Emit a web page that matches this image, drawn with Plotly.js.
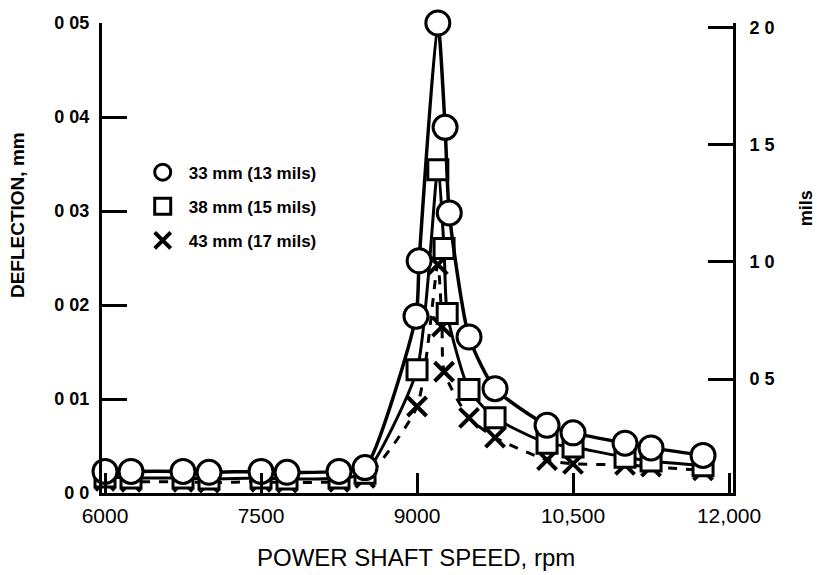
<!DOCTYPE html>
<html>
<head>
<meta charset="utf-8">
<script src="https://cdn.plot.ly/plotly-3.0.1.min.js"></script>
<style>html,body{margin:0;padding:0;background:#fff;}#chart{width:817px;height:575px;}</style>
</head>
<body>
<div id="chart"></div>
<script>
// Speeds (rpm) and deflections (mm)
const speed33 = [6000, 6250, 6750, 7000, 7500, 7750, 8250, 8500, 8990, 9020, 9200, 9270, 9310, 9500, 9750, 10250, 10500, 11000, 11250, 11750];
const defl33  = [0.0023, 0.0023, 0.0023, 0.0022, 0.0023, 0.0022, 0.0023, 0.0027, 0.0188, 0.0247, 0.0500, 0.0389, 0.0298, 0.0166, 0.0111, 0.0072, 0.0064, 0.0053, 0.0048, 0.0040];

const speed38 = [6000, 6250, 6750, 7000, 7500, 7750, 8250, 8500, 9000, 9200, 9260, 9290, 9500, 9750, 10250, 10500, 11000, 11250, 11750];
const defl38  = [0.0017, 0.0016, 0.0016, 0.0015, 0.0016, 0.0015, 0.0016, 0.0021, 0.0131, 0.0344, 0.0260, 0.0191, 0.0110, 0.0080, 0.0053, 0.0049, 0.0038, 0.0034, 0.0029];

const speed43 = [6000, 6250, 6750, 7000, 7500, 7750, 8250, 8500, 9000, 9200, 9240, 9260, 9500, 9750, 10250, 10500, 11000, 11250, 11750];
const defl43  = [0.0013, 0.0012, 0.0012, 0.0011, 0.0012, 0.0011, 0.0012, 0.0016, 0.0092, 0.0243, 0.0177, 0.0129, 0.0080, 0.0059, 0.0035, 0.0031, 0.0030, 0.0028, 0.0024];

const seriesNames = ["33 mm (13 mils)", "38 mm (15 mils)", "43 mm (17 mils)"];

const xTickVals = [6000, 7500, 9000, 10500, 12000];
const xTickText = ["6000", "7500", "9000", "10,500", "12,000"];
const yTickVals = [0, 0.01, 0.02, 0.03, 0.04, 0.05];
const yTickText = ["0 0", "0 01", "0 02", "0 03", "0 04", "0 05"];
const milTickVals = [0.5, 1.0, 1.5, 2.0];
const milTickText = ["0 5", "1 0", "1 5", "2 0"];

const FONT = "Liberation Sans, Arial, sans-serif";

const mk33 = {symbol: "circle", size: 24, color: "#fff", line: {color: "#000", width: 3}};
const mk38 = {symbol: "square", size: 20, color: "#fff", line: {color: "#000", width: 3}};
const mk43 = {symbol: "x-thin-open", size: 19, color: "#000", line: {color: "#000", width: 4}};

const traces = [
  {
    x: speed43, y: defl43, name: seriesNames[2], showlegend: false,
    mode: "lines+markers", type: "scatter", cliponaxis: false,
    line: {color: "#000", width: 3, dash: "dash", shape: "spline", smoothing: 0.6},
    marker: mk43
  },
  {
    x: speed38, y: defl38, name: seriesNames[1], showlegend: false,
    mode: "lines+markers", type: "scatter", cliponaxis: false,
    line: {color: "#000", width: 3, shape: "spline", smoothing: 0.6},
    marker: mk38
  },
  {
    x: speed33, y: defl33, name: seriesNames[0], showlegend: false,
    mode: "lines+markers", type: "scatter", cliponaxis: false,
    line: {color: "#000", width: 3.5, shape: "spline", smoothing: 0.6},
    marker: mk33
  },
  // legend entries (markers only, as in the reference key)
  {x: [null], y: [null], name: seriesNames[0], legendgroup: "a", legendrank: 1, mode: "markers", type: "scatter", marker: mk33},
  {x: [null], y: [null], name: seriesNames[1], legendgroup: "b", legendrank: 2, mode: "markers", type: "scatter", marker: mk38},
  {x: [null], y: [null], name: seriesNames[2], legendgroup: "c", legendrank: 3, mode: "markers", type: "scatter", marker: mk43},
  {
    x: [6000], y: [1], yaxis: "y2", showlegend: false, hoverinfo: "skip",
    mode: "markers", marker: {opacity: 0}, type: "scatter"
  }
];

const layout = {
  width: 817, height: 575,
  margin: {l: 102, r: 84, t: 23, b: 82},
  paper_bgcolor: "#fff", plot_bgcolor: "#fff",
  font: {family: FONT, color: "#000", size: 18},
  showlegend: true,
  legend: {
    x: 0.055, y: 0.72, xanchor: "left", yanchor: "top",
    bgcolor: "rgba(0,0,0,0)", borderwidth: 0,
    font: {family: FONT, size: 17, color: "#000", weight: "bold"},
    tracegroupgap: 9, traceorder: "grouped", itemwidth: 42
  },
  xaxis: {
    range: [5971, 12038], showgrid: false, zeroline: false,
    showline: true, linewidth: 3, linecolor: "#000",
    ticks: "inside", ticklen: 20, tickwidth: 3, tickcolor: "#000",
    tickvals: xTickVals, ticktext: xTickText, ticklabelstandoff: 2,
    tickfont: {family: FONT, size: 21, color: "#000"}
  },
  yaxis: {
    range: [0, 0.05], showgrid: false, zeroline: false,
    showline: true, linewidth: 3, linecolor: "#000",
    ticks: "inside", ticklen: 25, tickwidth: 3, tickcolor: "#000",
    tickvals: yTickVals, ticktext: yTickText, ticklabelstandoff: 6,
    tickfont: {family: FONT, size: 18, color: "#000", weight: "bold"}
  },
  yaxis2: {
    overlaying: "y", side: "right", range: [0.013, 2.021],
    showgrid: false, zeroline: false,
    showline: true, linewidth: 3, linecolor: "#000",
    ticks: "inside", ticklen: 25, tickwidth: 3, tickcolor: "#000",
    tickvals: milTickVals, ticktext: milTickText, ticklabelstandoff: 10,
    tickfont: {family: FONT, size: 18, color: "#000", weight: "bold"}
  },
  annotations: [
    {text: "POWER SHAFT SPEED, rpm", xref: "paper", yref: "paper", x: 0.498, y: -0.105,
     xanchor: "center", yanchor: "top", showarrow: false,
     font: {family: FONT, size: 24, color: "#000"}},
    {text: "DEFLECTION, mm", xref: "paper", yref: "paper", x: -0.135, y: 0.591,
     xanchor: "center", yanchor: "middle", textangle: -90, showarrow: false,
     font: {family: FONT, size: 19, color: "#000", weight: "bold"}},
    {text: "mils", xref: "paper", yref: "paper", x: 1.115, y: 0.605,
     xanchor: "center", yanchor: "middle", textangle: -90, showarrow: false,
     font: {family: FONT, size: 18, color: "#000", weight: "bold"}}
  ]
};

Plotly.newPlot("chart", traces, layout, {displayModeBar: false, staticPlot: true});
</script>
</body>
</html>
